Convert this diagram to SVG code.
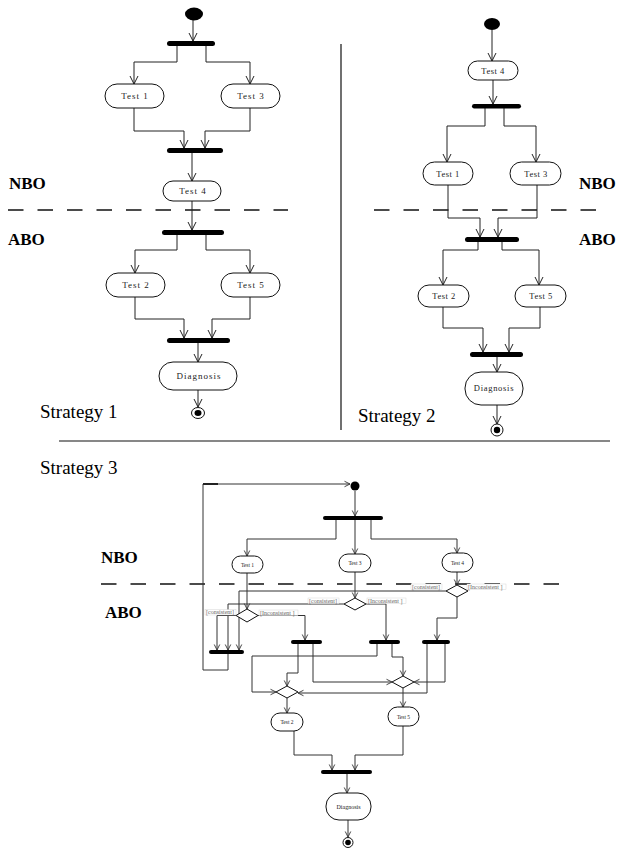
<svg xmlns="http://www.w3.org/2000/svg" width="619" height="848" viewBox="0 0 619 848">
<style>
.bg{fill:#fff}
.ln{fill:none;stroke:#222;stroke-width:1}
.ln3{fill:none;stroke:#333;stroke-width:1}
.sep{fill:none;stroke:#111;stroke-width:1.2}
.dash{fill:none;stroke:#111;stroke-width:1.6;stroke-dasharray:15.5 14}
.node{fill:#fff;stroke:#111;stroke-width:1}
.bar{fill:#000}
.dot{fill:#000}
.t1{font-family:"Liberation Serif","Times New Roman",serif;font-size:9px;letter-spacing:1px;fill:#222;text-anchor:middle}
.t2{font-family:"Liberation Serif","Times New Roman",serif;font-size:8.5px;letter-spacing:0.5px;fill:#222;text-anchor:middle}
.t3{font-family:"Liberation Serif","Times New Roman",serif;font-size:5.5px;fill:#222;text-anchor:middle}
.lbl{font-family:"Liberation Serif","Times New Roman",serif;font-size:17px;font-weight:bold;fill:#000}
.str{font-family:"Liberation Serif","Times New Roman",serif;font-size:19px;fill:#000}
.cond{font-family:"Liberation Serif","Times New Roman",serif;font-size:6px;fill:#666}
.cbox{fill:#fff;stroke:#ccc;stroke-width:0.4}
</style>
<defs>
<marker id="a" markerUnits="userSpaceOnUse" markerWidth="10" markerHeight="10" refX="8" refY="4" orient="auto" overflow="visible">
<path d="M0,0 L8,4 L0,8" fill="none" stroke="#222" stroke-width="1"/>
</marker>
<marker id="s" markerUnits="userSpaceOnUse" markerWidth="7" markerHeight="7" refX="5.5" refY="2.75" orient="auto" overflow="visible">
<path d="M0,0 L5.5,2.75 L0,5.5" fill="none" stroke="#333" stroke-width="0.9"/>
</marker>
</defs>
<rect class="bg" x="0" y="0" width="619" height="848"/>

<!-- separators and region labels -->
<g id="frame">
<line class="sep" x1="341" y1="44" x2="341" y2="430"/>
<line class="sep" x1="59" y1="441" x2="610" y2="441"/>
<line class="dash" x1="8" y1="210" x2="288" y2="210"/>
<line class="dash" x1="374" y1="210" x2="597" y2="210"/>
<line class="dash" x1="101" y1="584" x2="559" y2="584"/>
<text class="lbl" x="9" y="189">NBO</text>
<text class="lbl" x="8" y="245">ABO</text>
<text class="lbl" x="579" y="189">NBO</text>
<text class="lbl" x="579" y="245">ABO</text>
<text class="lbl" x="101" y="563">NBO</text>
<text class="lbl" x="105" y="618">ABO</text>
<text class="str" x="40" y="418">Strategy 1</text>
<text class="str" x="358" y="422">Strategy 2</text>
<text class="str" x="40" y="474">Strategy 3</text>
</g>

<!-- connectors -->
<g id="connectors">
<!-- Strategy 1 -->
<path class="ln" marker-end="url(#a)" d="M193,20 V41"/>
<path class="ln" marker-end="url(#a)" d="M177,46 V62 H134 V84"/>
<path class="ln" marker-end="url(#a)" d="M206,46 V62 H250 V84"/>
<path class="ln" marker-end="url(#a)" d="M134,108 V131 H184 V148"/>
<path class="ln" marker-end="url(#a)" d="M250,108 V131 H205 V148"/>
<path class="ln" marker-end="url(#a)" d="M192,153 V181"/>
<path class="ln" marker-end="url(#a)" d="M192,201 V230"/>
<path class="ln" marker-end="url(#a)" d="M177,235 V250 H135 V273"/>
<path class="ln" marker-end="url(#a)" d="M206,235 V250 H250 V273"/>
<path class="ln" marker-end="url(#a)" d="M135,297 V319 H184 V338"/>
<path class="ln" marker-end="url(#a)" d="M250,297 V319 H212 V338"/>
<path class="ln" marker-end="url(#a)" d="M198,343 V362"/>
<path class="ln" marker-end="url(#a)" d="M198,390 V407"/>
<!-- Strategy 2 -->
<path class="ln" marker-end="url(#a)" d="M492,30 V61"/>
<path class="ln" marker-end="url(#a)" d="M493,80 V104"/>
<path class="ln" marker-end="url(#a)" d="M485,108 V126 H447 V162"/>
<path class="ln" marker-end="url(#a)" d="M504,108 V126 H536 V162"/>
<path class="ln" marker-end="url(#a)" d="M448,185 V218 H480 V237"/>
<path class="ln" marker-end="url(#a)" d="M537,185 V218 H498 V237"/>
<path class="ln" marker-end="url(#a)" d="M478,242 V250 H443 V285"/>
<path class="ln" marker-end="url(#a)" d="M502,242 V250 H539 V285"/>
<path class="ln" marker-end="url(#a)" d="M443,307 V328 H483 V352"/>
<path class="ln" marker-end="url(#a)" d="M540,307 V328 H509 V352"/>
<path class="ln" marker-end="url(#a)" d="M497,357 V372"/>
<path class="ln" marker-end="url(#a)" d="M497,405 V424"/>
<!-- Strategy 3 -->
<path class="ln3" marker-end="url(#s)" d="M228,654 V670 H203 V484 H350"/>
<path fill="none" stroke="#222" stroke-width="2" d="M203,484 H218"/>
<path class="ln3" marker-end="url(#s)" d="M355,491 V516"/>
<path class="ln3" marker-end="url(#s)" d="M336,520 V539 H247 V556"/>
<path class="ln3" marker-end="url(#s)" d="M355,520 V554"/>
<path class="ln3" marker-end="url(#s)" d="M371,520 V539 H457 V553"/>
<path class="ln3" marker-end="url(#s)" d="M247,573 V609"/>
<path class="ln3" marker-end="url(#s)" d="M355,572 V598"/>
<path class="ln3" marker-end="url(#s)" d="M457,572 V585"/>
<path class="ln3" marker-end="url(#s)" d="M236,615.5 H217 V650"/>
<path class="ln3" marker-end="url(#s)" d="M258,615.5 H305 V640"/>
<path class="ln3" marker-end="url(#s)" d="M344,604 H228 V650"/>
<path class="ln3" marker-end="url(#s)" d="M366,604 H386 V640"/>
<path class="ln3" marker-end="url(#s)" d="M446,591 H239 V650"/>
<path class="ln3" marker-end="url(#s)" d="M457,597 V618 H437 V640"/>
<path class="ln3" marker-end="url(#s)" d="M298,644 V673 H287 V686"/>
<path class="ln3" marker-end="url(#s)" d="M313,644 V682 H392"/>
<path class="ln3" marker-end="url(#s)" d="M377,644 V656 H252 V692 H276"/>
<path class="ln3" marker-end="url(#s)" d="M392,644 V657 H403 V676"/>
<path class="ln3" marker-end="url(#s)" d="M427,644 V693 H298"/>
<path class="ln3" marker-end="url(#s)" d="M445,644 V682 H414"/>
<path class="ln3" marker-end="url(#s)" d="M287,698 V713"/>
<path class="ln3" marker-end="url(#s)" d="M403,688 V707"/>
<path class="ln3" marker-end="url(#s)" d="M294,731 V755 H332 V770"/>
<path class="ln3" marker-end="url(#s)" d="M403,726 V755 H355 V770"/>
<path class="ln3" marker-end="url(#s)" d="M347,774 V793"/>
<path class="ln3" marker-end="url(#s)" d="M348,820 V837"/>
</g>

<!-- Strategy 1 nodes -->
<g id="s1-start"><ellipse class="dot" cx="194" cy="14" rx="9" ry="6.5"/></g>
<g id="s1-fork1"><rect class="bar" x="167" y="41" width="48" height="5" rx="2.5"/></g>
<g id="s1-test1"><rect class="node" x="105" y="84" width="59" height="24" rx="12"/><text class="t1" x="135" y="99">Test 1</text></g>
<g id="s1-test3"><rect class="node" x="221" y="84" width="59" height="24" rx="12"/><text class="t1" x="251" y="99">Test 3</text></g>
<g id="s1-join1"><rect class="bar" x="167" y="148" width="56" height="5" rx="2.5"/></g>
<g id="s1-test4"><rect class="node" x="163" y="181" width="58" height="20" rx="10"/><text class="t1" x="193" y="194">Test 4</text></g>
<g id="s1-fork2"><rect class="bar" x="162" y="230" width="62" height="5" rx="2.5"/></g>
<g id="s1-test2"><rect class="node" x="106" y="273" width="59" height="24" rx="12"/><text class="t1" x="136" y="288">Test 2</text></g>
<g id="s1-test5"><rect class="node" x="221" y="273" width="59" height="24" rx="12"/><text class="t1" x="251" y="288">Test 5</text></g>
<g id="s1-join2"><rect class="bar" x="167" y="338" width="63" height="5" rx="2.5"/></g>
<g id="s1-diagnosis"><rect class="node" x="159" y="362" width="78" height="28" rx="14"/><text class="t1" x="199" y="379">Diagnosis</text></g>
<g id="s1-end"><ellipse class="node" cx="198" cy="413" rx="6.5" ry="5.5"/><ellipse class="dot" cx="198" cy="413" rx="3.5" ry="3"/></g>

<!-- Strategy 2 nodes -->
<g id="s2-start"><ellipse class="dot" cx="492" cy="24" rx="8" ry="6"/></g>
<g id="s2-test4"><rect class="node" x="468" y="61" width="50" height="19" rx="9.5"/><text class="t2" x="493" y="73.5">Test 4</text></g>
<g id="s2-fork1"><rect class="bar" x="472" y="104" width="49" height="4.5" rx="2.2"/></g>
<g id="s2-test1"><rect class="node" x="423" y="162" width="50" height="23" rx="11.5"/><text class="t2" x="448" y="176.5">Test 1</text></g>
<g id="s2-test3"><rect class="node" x="510" y="162" width="51" height="23" rx="11.5"/><text class="t2" x="536" y="176.5">Test 3</text></g>
<g id="s2-join1"><rect class="bar" x="465" y="237" width="54" height="5" rx="2.5"/></g>
<g id="s2-test2"><rect class="node" x="418" y="285" width="51" height="22" rx="11"/><text class="t2" x="444" y="299">Test 2</text></g>
<g id="s2-test5"><rect class="node" x="515" y="285" width="51" height="22" rx="11"/><text class="t2" x="541" y="299">Test 5</text></g>
<g id="s2-join2"><rect class="bar" x="470" y="352" width="53" height="5" rx="2.5"/></g>
<g id="s2-diagnosis"><rect class="node" x="465" y="372" width="58" height="33" rx="16"/><text class="t2" x="494" y="391" style="letter-spacing:0.7px">Diagnosis</text></g>
<g id="s2-end"><circle class="node" cx="497" cy="430" r="6"/><circle class="dot" cx="497" cy="430" r="3.2"/></g>

<!-- Strategy 3 nodes -->
<g id="s3-start"><circle class="dot" cx="355" cy="486" r="4.5"/></g>
<g id="s3-fork"><rect class="bar" x="323" y="516" width="60" height="4" rx="2"/></g>
<g id="s3-test1"><rect class="node" x="232" y="556" width="31" height="17" rx="8.5"/><text class="t3" x="247.5" y="566.5">Test 1</text></g>
<g id="s3-test3"><rect class="node" x="339" y="554" width="32" height="18" rx="9"/><text class="t3" x="355" y="565">Test 3</text></g>
<g id="s3-test4"><rect class="node" x="442" y="553" width="31" height="19" rx="9.5"/><text class="t3" x="457.5" y="564.5">Test 4</text></g>
<g id="s3-dec1"><polygon class="node" points="247,609 258,615.5 247,622 236,615.5"/></g>
<g id="s3-dec2"><polygon class="node" points="355,598 366,604 355,610 344,604"/></g>
<g id="s3-dec3"><polygon class="node" points="457,585 468,591 457,597 446,591"/></g>
<g id="s3-labels">
<rect class="cbox" x="205" y="609.5" width="31" height="5.5"/><text class="cond" x="206" y="614">[consistent]</text>
<rect class="cbox" x="259" y="610" width="39" height="5.5"/><text class="cond" x="260" y="614.5">[Inconsistent ]</text>
<rect class="cbox" x="308" y="598" width="31" height="5.5"/><text class="cond" x="309" y="602.5">[consistent]</text>
<rect class="cbox" x="367" y="598" width="39" height="5.5"/><text class="cond" x="368" y="602.5">[Inconsistent ]</text>
<rect class="cbox" x="411" y="584" width="31" height="5.5"/><text class="cond" x="412" y="588.5">[consistent]</text>
<rect class="cbox" x="467" y="584" width="39" height="5.5"/><text class="cond" x="468" y="588.5">[Inconsistent ]</text>
</g>
<g id="s3-barL"><rect class="bar" x="209" y="650" width="35" height="4" rx="2"/></g>
<g id="s3-bar2"><rect class="bar" x="291" y="640" width="31" height="4" rx="2"/></g>
<g id="s3-bar3"><rect class="bar" x="369" y="640" width="31" height="4" rx="2"/></g>
<g id="s3-bar4"><rect class="bar" x="422" y="640" width="28" height="4" rx="2"/></g>
<g id="s3-dec4"><polygon class="node" points="287,686 298,692 287,698 276,692"/></g>
<g id="s3-dec5"><polygon class="node" points="403,676 414,682 403,688 392,682"/></g>
<g id="s3-test2"><rect class="node" x="271" y="713" width="32" height="18" rx="9"/><text class="t3" x="287" y="724">Test 2</text></g>
<g id="s3-test5"><rect class="node" x="388" y="707" width="31" height="19" rx="9.5"/><text class="t3" x="403.5" y="718.5">Test 5</text></g>
<g id="s3-join"><rect class="bar" x="321" y="770" width="51" height="4" rx="2"/></g>
<g id="s3-diagnosis"><rect class="node" x="326" y="793" width="45" height="27" rx="13"/><text class="t3" x="348.5" y="808.5" style="font-size:6px">Diagnosis</text></g>
<g id="s3-end"><circle class="node" cx="348" cy="842.5" r="5"/><circle class="dot" cx="348" cy="842.5" r="2.8"/></g>
</svg>
